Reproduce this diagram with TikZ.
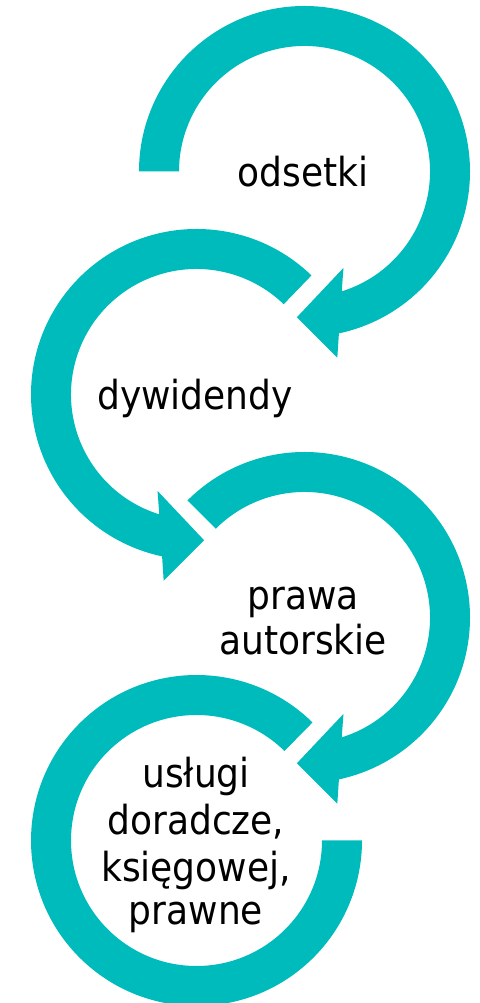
\documentclass[tikz,border=0pt]{standalone}
\usepackage{fontspec}
\setmainfont{DejaVu Sans Condensed}
\definecolor{arrowteal}{RGB}{0,187,187}
\begin{document}
\begin{tikzpicture}[x=1pt,y=1pt,
  ring/.style={fill=arrowteal, draw=none},
  txt/.style={font=\fontsize{40}{46}\selectfont, anchor=base, inner sep=0pt, text=black}]
\useasboundingbox (0,0) rectangle (479,1003);
\coordinate (c1) at (304.5,831.5);
\coordinate (c2) at (196.5,608.5);
\coordinate (c3) at (304.5,385.5);
\coordinate (c4) at (196.5,162.5);
% ring 1 (clockwise, arrow at bottom)
\fill[ring,shift={(c1)}] (180:165.5pt) arc[start angle=180,end angle=-78,radius=165.5pt]
  -- (-80:189pt) -- (-93:146pt) -- (-68:104pt) -- (-72.75:125.5pt)
  arc[start angle=-72.75,end angle=180,radius=125.5pt] -- cycle;
% ring 2 (counter-clockwise)
\fill[ring,shift={(c2)}] (46:165.5pt) arc[start angle=46,end angle=258,radius=165.5pt]
  -- (260:189pt) -- (273:146pt) -- (248:104pt) -- (252.75:125.5pt)
  arc[start angle=252.75,end angle=46,radius=125.5pt] -- cycle;
% ring 3 (clockwise)
\fill[ring,shift={(c3)}] (135:165.5pt) arc[start angle=135,end angle=-78,radius=165.5pt]
  -- (-80:189pt) -- (-93:146pt) -- (-68:104pt) -- (-72.75:125.5pt)
  arc[start angle=-72.75,end angle=135,radius=125.5pt] -- cycle;
% ring 4 (no arrow head)
\fill[ring,shift={(c4)}] (45.5:165.5pt) arc[start angle=45.5,end angle=360,radius=165.5pt]
  -- (0:125.5pt) arc[start angle=360,end angle=45.5,radius=125.5pt] -- cycle;
% texts
\node[txt] (t1) at (303,816) {odsetki};
\node[txt] (t2) at (195,593) {dywidendy};
\node[txt] (t3a) at (303,393) {prawa};
\node[txt] (t3b) at (303,348) {autorskie};
\node[txt] (t4a) at (196,215) {usługi};
\node[txt] (t4b) at (196,168) {doradcze,};
\node[txt] (t4c) at (196,121) {księgowej,};
\node[txt] (t4d) at (196,78) {prawne};
\end{tikzpicture}
\end{document}
